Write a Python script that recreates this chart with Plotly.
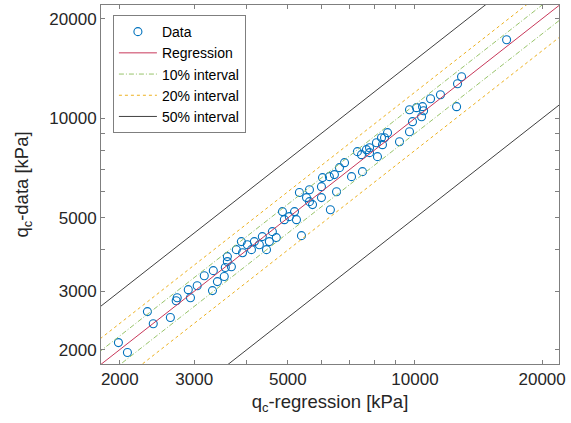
import plotly.graph_objects as go
import numpy as np

# Data points (q_c-regression, q_c-data) in kPa
qc_regression = [1985, 2085, 2325, 2400, 2635, 2720, 2735, 2940, 2905, 3050,
                 3315, 3170, 3330, 3405, 3535, 3555, 3595, 3595, 3675, 3775,
                 3880, 3905, 4010, 4100, 4165, 4280, 4350, 4450, 4520, 4595,
                 4695, 4855, 4905, 5040, 5185, 5240, 5385, 5325, 5625, 5535,
                 5625, 5720, 6005, 6005, 6040, 6270, 6445, 6520, 6305, 6625,
                 6810, 7075, 7510, 7305, 7675, 7470, 7805, 7805, 8150, 8105,
                 8330, 8375, 8470, 8610, 9190, 9705, 9865, 9705, 10085, 10420,
                 10365, 10480, 10885, 11490, 12545, 12610, 12890, 16480]
qc_data = [2100, 1960, 2605, 2395, 2500, 2810, 2870, 2870, 3035, 3120,
           3015, 3345, 3465, 3210, 3325, 3540, 3690, 3820, 3560, 4010,
           4240, 3925, 4150, 4010, 4240, 4150, 4390, 4010, 4240, 4545,
           4360, 5225, 4940, 5045, 5225, 4940, 4420, 5965, 6085, 5760,
           5600, 5485, 5760, 6215, 6620, 6665, 6760, 6000, 5295, 7095,
           7345, 6665, 6900, 7930, 8040, 7765, 8150, 7875, 7660, 8440,
           8740, 8325, 8740, 9050, 8500, 9110, 9770, 10620, 10770, 10845,
           10115, 10545, 11465, 11785, 10845, 12725, 13360, 17285]

# Interval definitions (relative deviation from regression y = x)
interval_names = ["10% interval", "20% interval", "50% interval"]
interval_fracs = [0.10, 0.20, 0.50]
interval_colors = ["#98C46A", "#EDB120", "#404040"]
interval_dashes = ["5px,2px,1px,2px", "3px,3px", "solid"]

line_x = np.array([1500.0, 26000.0])

tick_vals = [2000, 3000, 5000, 10000, 20000]
tick_text = ["2000", "3000", "5000", "10000", "20000"]
minor_tick_vals = [4000, 6000, 7000, 8000, 9000]

FONT = "Liberation Sans, Arial, sans-serif"

fig = go.Figure()

fig.add_trace(go.Scatter(
    x=qc_regression, y=qc_data, mode="markers", name="Data",
    marker=dict(symbol="circle-open", size=8, color="#0072BD",
                line=dict(width=1.1, color="#0072BD")),
))

fig.add_trace(go.Scatter(
    x=line_x, y=line_x, mode="lines", name="Regression",
    line=dict(color="#C8385A", width=1),
))

for name, frac, col, dash in zip(interval_names, interval_fracs, interval_colors, interval_dashes):
    for k, sign in enumerate([1, -1]):
        fig.add_trace(go.Scatter(
            x=line_x, y=line_x * (1 + sign * frac), mode="lines", name=name,
            line=dict(color=col, width=1, dash=dash),
            showlegend=(k == 0),
        ))

axis_common = dict(
    type="log", showgrid=False, zeroline=False,
    showline=True, linecolor="#7f7f7f", linewidth=1, mirror="ticks",
    ticks="inside", ticklen=4, tickcolor="#7f7f7f", tickwidth=1,
    tickmode="array", tickvals=tick_vals, ticktext=tick_text,
    tickfont=dict(family=FONT, size=17, color="#262626"),
    minor=dict(tickmode="array", tickvals=minor_tick_vals, ticks="inside",
               ticklen=4, tickcolor="#7f7f7f", tickwidth=1, showgrid=False),
)

fig.update_layout(
    width=571, height=423,
    margin=dict(l=101, r=12, t=5, b=59),
    paper_bgcolor="white", plot_bgcolor="white",
    font=dict(family=FONT, color="#262626"),
    xaxis=dict(axis_common, range=[3.2565, 4.341],
               title=dict(text="q<sub>c</sub>-regression [kPa]",
                          font=dict(family=FONT, size=18.5, color="#262626"), standoff=6)),
    yaxis=dict(axis_common, range=[3.2575, 4.3425],
               title=dict(text="q<sub>c</sub>-data [kPa]",
                          font=dict(family=FONT, size=18.5, color="#262626"), standoff=15)),
    legend=dict(x=0.026, y=0.972, xanchor="left", yanchor="top",
                bgcolor="white", bordercolor="#7f7f7f", borderwidth=1,
                font=dict(family=FONT, size=14, color="#000000"),
                itemwidth=38, tracegroupgap=0),
    showlegend=True,
)

fig.write_html("out.html")
